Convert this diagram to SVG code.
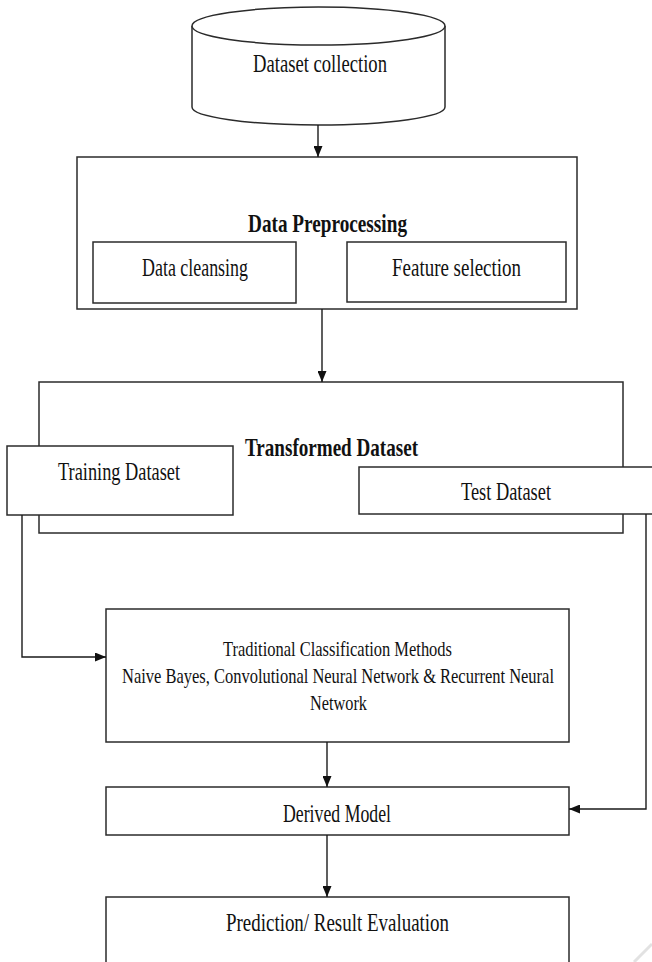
<svg xmlns="http://www.w3.org/2000/svg" width="652" height="962" viewBox="0 0 652 962">
<style>
.b{fill:#fff;stroke:#2b2b2b;stroke-width:1.5}
.t{font-family:"Liberation Serif","DejaVu Serif",serif;font-size:26px;fill:#111}
.s{font-family:"Liberation Serif","DejaVu Serif",serif;font-size:21px;fill:#111}
.h{font-family:"Liberation Serif","DejaVu Serif",serif;font-size:26px;font-weight:bold;fill:#111}
.c{fill:none;stroke:#1a1a1a;stroke-width:1.4}
</style>
<defs>
<marker id="ah" markerUnits="userSpaceOnUse" markerWidth="11" markerHeight="9" refX="11" refY="4.5" orient="auto">
<path d="M0,0 L11,4.5 L0,9 z" fill="#111"/>
</marker>
</defs>
<rect width="652" height="962" fill="#fff"/>

<g id="dataset-collection">
<path class="b" d="M192,26 L192,107 A126.5,18 0 0 0 445,107 L445,26"/>
<ellipse class="b" cx="318.5" cy="26" rx="126.5" ry="19"/>
<text class="t" x="253" y="72" textLength="134" lengthAdjust="spacingAndGlyphs">Dataset collection</text>
</g>

<g id="data-preprocessing">
<rect class="b" x="77" y="157" width="500" height="152"/>
<text class="h" x="248" y="232" textLength="159" lengthAdjust="spacingAndGlyphs">Data Preprocessing</text>
</g>
<g id="data-cleansing">
<rect class="b" x="93" y="242" width="203" height="61"/>
<text class="t" x="142" y="276" textLength="106" lengthAdjust="spacingAndGlyphs">Data cleansing</text>
</g>
<g id="feature-selection">
<rect class="b" x="347" y="242" width="219" height="60"/>
<text class="t" x="392" y="276" textLength="129" lengthAdjust="spacingAndGlyphs">Feature selection</text>
</g>

<g id="transformed-dataset">
<rect class="b" x="39" y="382" width="584" height="151"/>
<text class="h" x="245" y="456" textLength="173" lengthAdjust="spacingAndGlyphs">Transformed Dataset</text>
</g>
<g id="training-dataset">
<rect class="b" x="7" y="446" width="226" height="69"/>
<text class="t" x="58" y="480" textLength="122" lengthAdjust="spacingAndGlyphs">Training Dataset</text>
</g>
<g id="test-dataset">
<rect class="b" x="359" y="467" width="300" height="47"/>
<text class="t" x="461" y="500" textLength="90" lengthAdjust="spacingAndGlyphs">Test Dataset</text>
</g>

<g id="classification-methods">
<rect class="b" x="106" y="609" width="463" height="133"/>
<text class="s" x="223" y="656" textLength="229" lengthAdjust="spacingAndGlyphs">Traditional Classification Methods</text>
<text class="s" x="122" y="683" textLength="432" lengthAdjust="spacingAndGlyphs">Naive Bayes, Convolutional Neural Network &amp; Recurrent  Neural</text>
<text class="s" x="310" y="710" textLength="57" lengthAdjust="spacingAndGlyphs">Network</text>
</g>

<g id="derived-model">
<rect class="b" x="106" y="787" width="463" height="48"/>
<text class="t" x="283" y="822" textLength="108" lengthAdjust="spacingAndGlyphs">Derived Model</text>
</g>

<g id="prediction">
<rect class="b" x="106" y="897" width="463" height="80"/>
<text class="t" x="226" y="931" textLength="223" lengthAdjust="spacingAndGlyphs">Prediction/ Result Evaluation</text>
</g>

<g id="connectors">
<path class="c" d="M318,125 L318,157" marker-end="url(#ah)"/>
<path class="c" d="M322,309 L322,382" marker-end="url(#ah)"/>
<path class="c" d="M22,515 L22,657 L106,657" marker-end="url(#ah)"/>
<path class="c" d="M327,742 L327,787" marker-end="url(#ah)"/>
<path class="c" d="M646,514 L646,809 L569,809" marker-end="url(#ah)"/>
<path class="c" d="M327,835 L327,897" marker-end="url(#ah)"/>
</g>

<line x1="634" y1="962" x2="652" y2="944" stroke="#e2e2e2" stroke-width="3"/>
</svg>
